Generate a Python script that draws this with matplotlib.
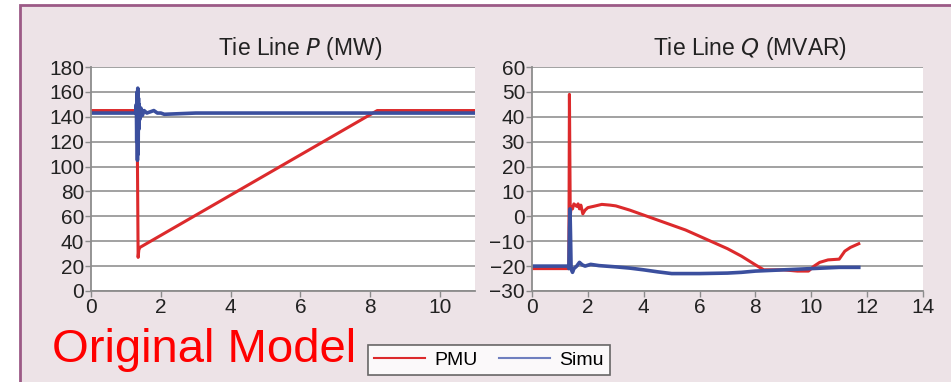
#!/usr/bin/env python3
"""
Tie line P / Q comparison: PMU measurement vs. simulation (original model).
"""

import matplotlib.pyplot as plt
from matplotlib.patches import Rectangle
from matplotlib.lines import Line2D

plt.rcParams['font.family'] = ['Liberation Sans', 'DejaVu Sans']

# Tie line P (MW)
pmu_p_t = [0, 1.30, 1.32, 1.33, 1.35, 1.37, 1.40, 8.2, 9, 10, 11]
pmu_p = [145, 145, 145, 105, 27, 33, 35, 145, 145, 145, 145]

simu_p_t = [0, 1.28, 1.30, 1.31, 1.32, 1.33, 1.34, 1.35, 1.36, 1.37, 1.38, 1.40,
            1.43, 1.47, 1.52, 1.6, 1.7, 1.8, 1.9, 2.0, 2.1, 3, 4, 5, 6, 7, 8, 9, 10, 11]
simu_p = [143, 143, 150, 120, 160, 105, 163, 110, 155, 130, 150, 138,
          147, 141, 145, 143, 144, 145, 143, 143, 142, 143, 143, 143, 143, 143, 143, 143, 143, 143]

# Tie line Q (MVAR)
pmu_q_t = [0, 1.30, 1.32, 1.34, 1.37, 1.40, 1.45, 1.5, 1.6, 1.65, 1.7, 1.75, 1.82, 1.9,
           2.0, 2.2, 2.5, 2.8, 3.0, 3.5, 4.0, 4.5, 5.0, 5.5, 6.0, 6.5, 7.0, 7.5, 8.0,
           8.3, 8.6, 9.0, 9.5, 9.9, 10.1, 10.3, 10.6, 11.0, 11.2, 11.4, 11.7]
pmu_q = [-21, -21, -20, 49, 0, 4, 3, 5, 4, 5, 3, 4.5, 1, 2.5,
         3.5, 4, 4.8, 4.5, 4.2, 2.5, 0.5, -1.5, -3.5, -5.5, -8, -10.5, -13, -16, -19.5,
         -21.5, -21.5, -21.5, -22, -22, -20, -18.5, -17.5, -17.2, -14, -12.5, -11]

simu_q_t = [0, 1.30, 1.32, 1.34, 1.36, 1.38, 1.40, 1.45, 1.5, 1.6, 1.7, 1.8, 1.9, 2.1,
            2.4, 3.0, 3.5, 4.0, 4.5, 5.0, 6.0, 7.0, 7.5, 8.0, 9.0, 10.0, 11.0, 11.7]
simu_q = [-20, -20, -21, -5, 3, -8, -21, -22.5, -21, -20, -18.5, -19.5, -20, -19.3,
          -19.8, -20.3, -20.8, -21.5, -22.3, -23, -23, -22.8, -22.5, -22, -21.5, -21, -20.5, -20.5]

RED = '#dc2a2c'
BLUE = '#3b4f9e'
BG = '#ede3e7'
GRID = '#9a9a9a'


def style_axes(ax, ylim, yticks, xlim, xticks, title, title_x):
    ax.set_facecolor('white')
    ax.set_xlim(*xlim)
    ax.set_ylim(*ylim)
    ax.set_xticks(xticks)
    ax.set_yticks(yticks)
    ax.set_yticklabels([str(v).replace('-', '\u2212') for v in yticks])
    ax.grid(True, axis='y', color=GRID, linewidth=1.3)
    ax.set_axisbelow(True)
    for side in ('top', 'right'):
        ax.spines[side].set_visible(False)
    for side in ('left', 'bottom'):
        ax.spines[side].set_color('#8c8c8c')
        ax.spines[side].set_linewidth(1.3)
    ax.tick_params(axis='both', labelsize=15, colors='#8c8c8c', labelcolor='#222222',
                   length=4, width=1.0, pad=1)
    ax.set_title(title, fontsize=16.5, color='#222222', pad=9, x=title_x)


def main():
    fig = plt.figure(figsize=(9.51, 3.82), dpi=100, facecolor='white')

    # pinkish panel with purple frame
    fig.patches.append(Rectangle((20 / 951, -0.05), 1.0, 1.05 - 5 / 382,
                                 transform=fig.transFigure, facecolor=BG,
                                 edgecolor='#9c5a86', linewidth=2.0, zorder=-10))

    ax1 = fig.add_axes([91 / 951, 1 - 291 / 382, (475 - 91) / 951, (291 - 67) / 382])
    ax2 = fig.add_axes([532 / 951, 1 - 291 / 382, (923 - 532) / 951, (291 - 67) / 382])

    # Tie line P
    ax1.plot(pmu_p_t, pmu_p, color=RED, linewidth=2.2)
    ax1.plot(simu_p_t, simu_p, color=BLUE, linewidth=2.6)
    style_axes(ax1, (0, 180), list(range(0, 181, 20)), (0, 11), [0, 2, 4, 6, 8, 10],
               'Tie Line $\\it{P}$ (MW)', (300 - 91) / 384)

    # Tie line Q
    ax2.plot(pmu_q_t, pmu_q, color=RED, linewidth=2.2)
    ax2.plot(simu_q_t, simu_q, color=BLUE, linewidth=2.6)
    style_axes(ax2, (-30, 60), list(range(-30, 61, 10)), (0, 14), list(range(0, 15, 2)),
               'Tie Line $\\it{Q}$ (MVAR)', (750 - 532) / 391)

    fig.text(52 / 951, 1 - 362 / 382, 'Original Model', color='#ff0000', fontsize=34,
             ha='left', va='baseline')

    handles = [Line2D([], [], color=RED, linewidth=1.5, label='PMU'),
               Line2D([], [], color='#6f7fbf', linewidth=1.5, label='Simu')]
    leg = fig.legend(handles=handles, loc='center', ncol=2, fontsize=14,
                     bbox_to_anchor=(489 / 951, 1 - 360 / 382), frameon=True, fancybox=False,
                     edgecolor='#444444', handlelength=2.6, columnspacing=1.1,
                     borderpad=0.3, handletextpad=0.5)
    leg.get_frame().set_linewidth(1.2)

    fig.savefig('out.png', dpi=100, facecolor='white')


if __name__ == '__main__':
    main()
